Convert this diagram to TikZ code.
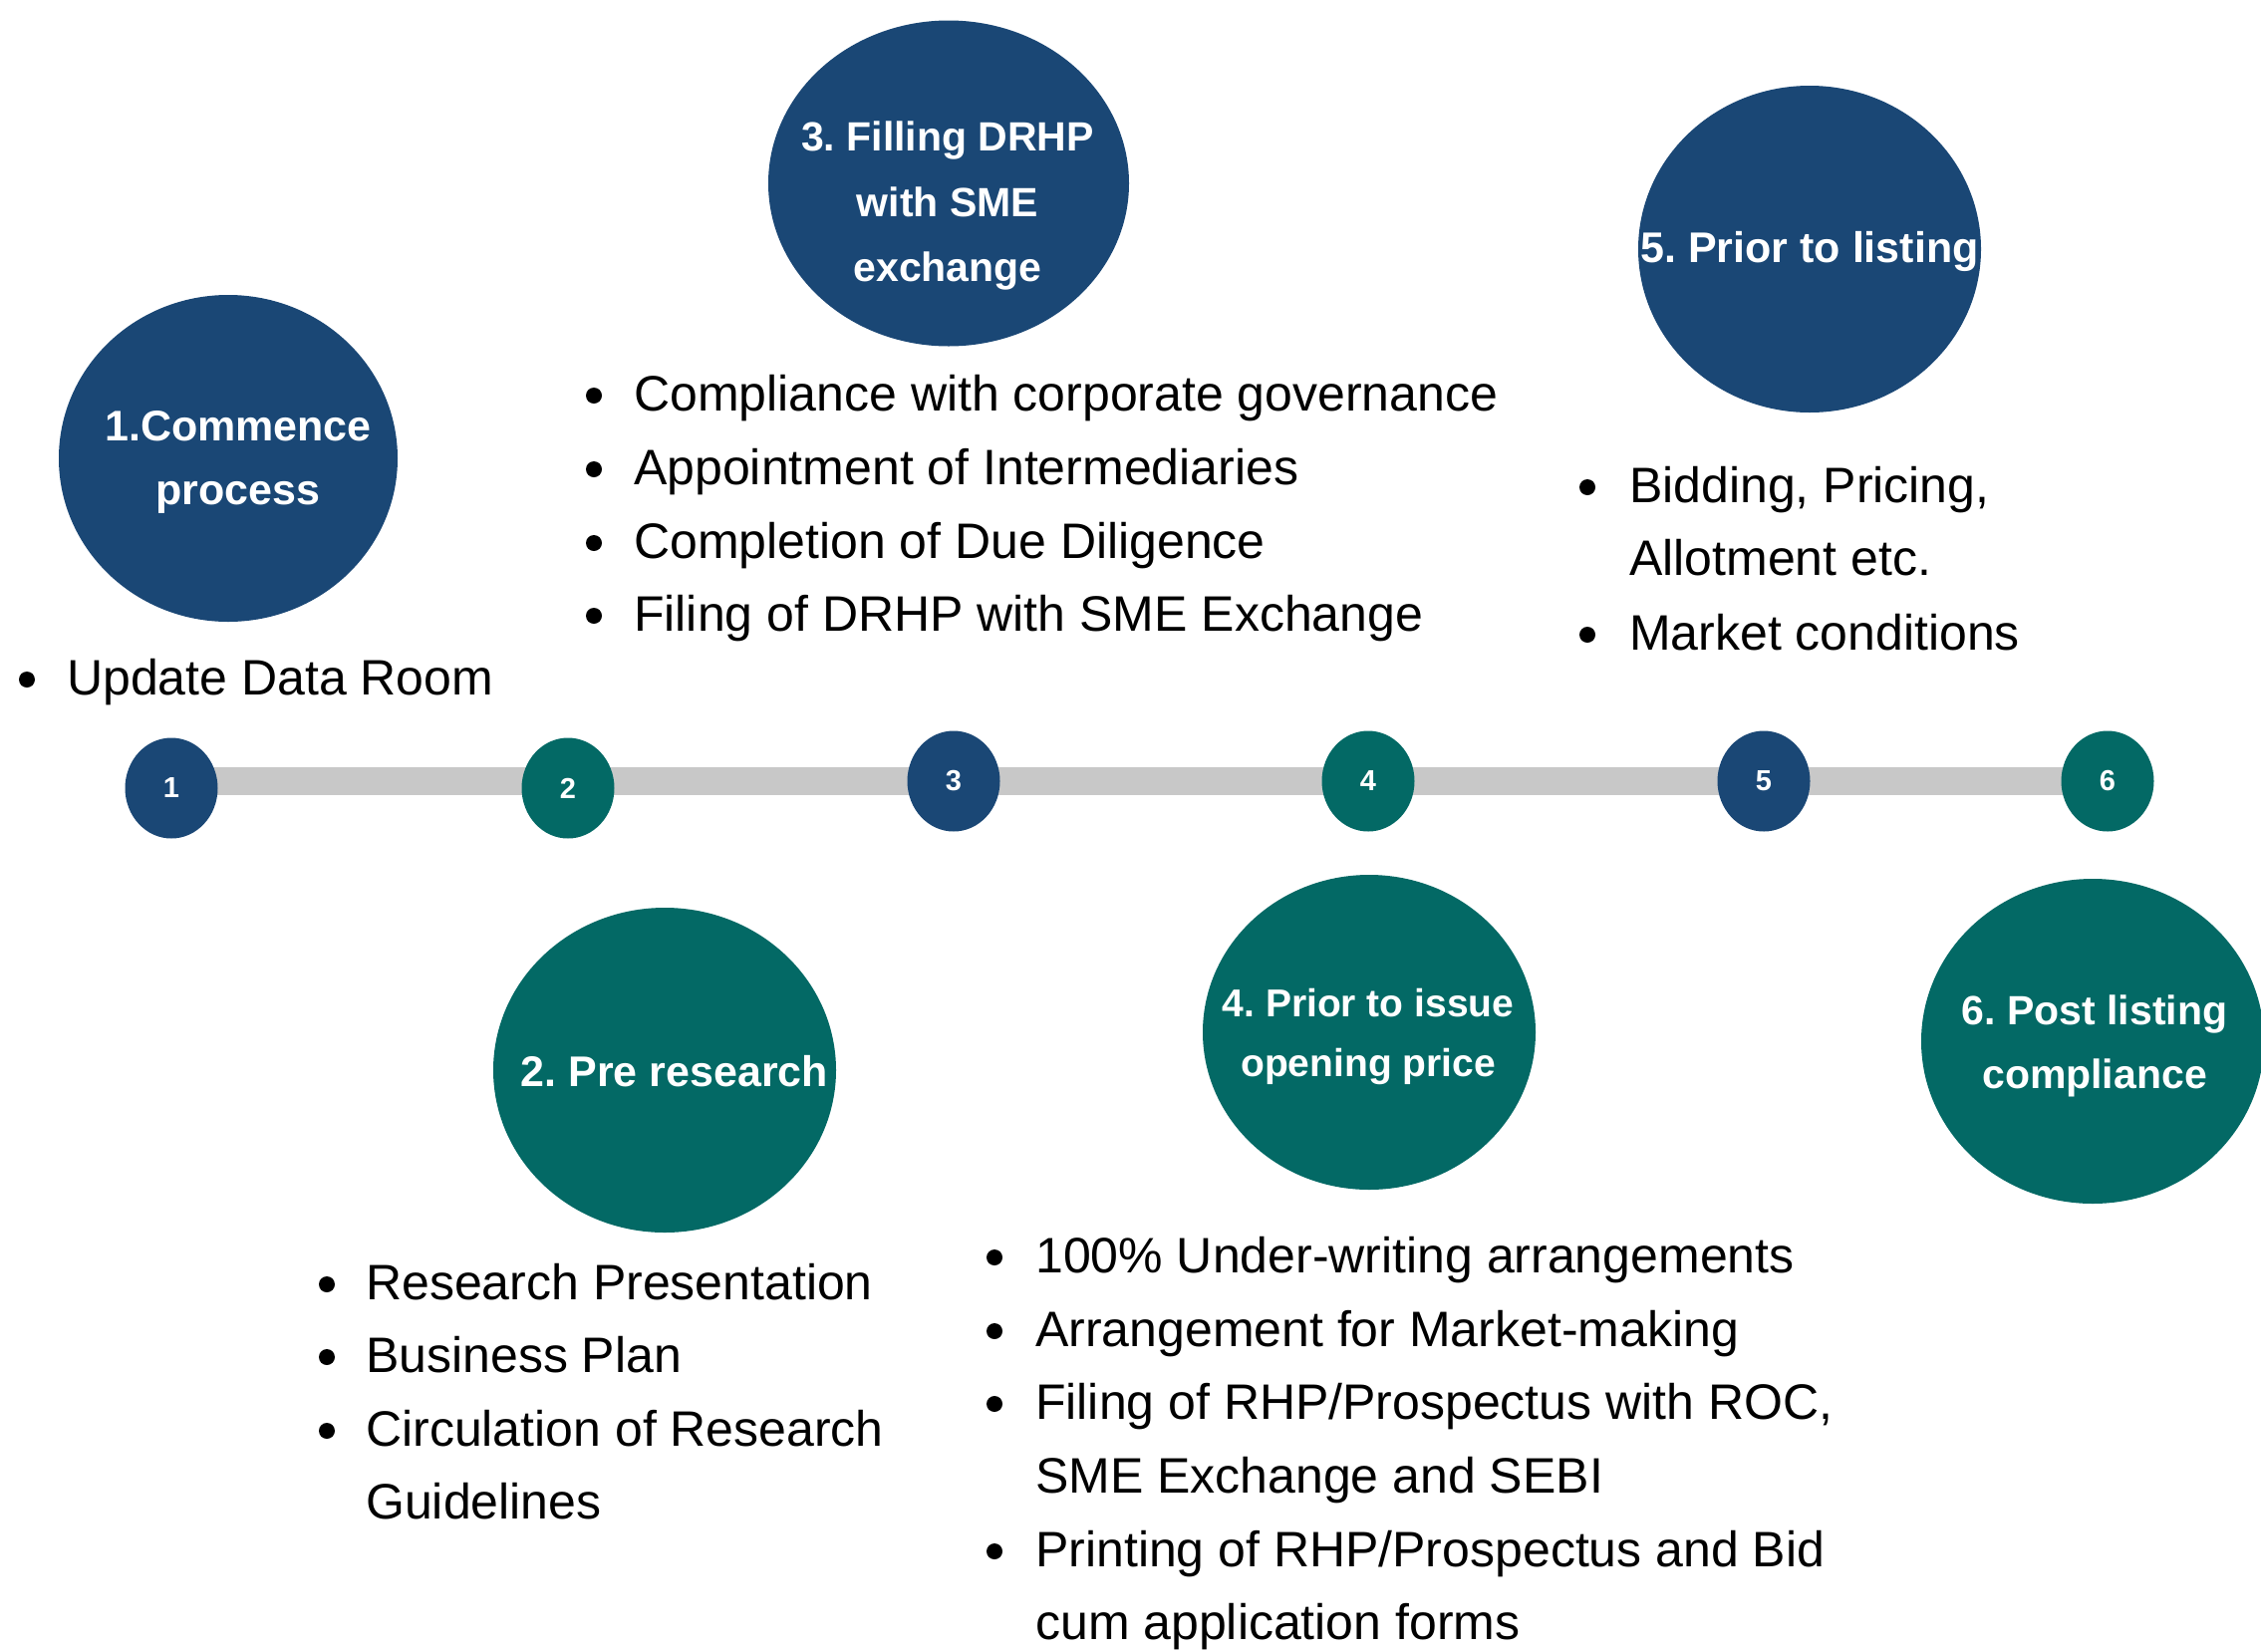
\documentclass[tikz,border=0pt]{standalone}
\usepackage{fontspec}
\setmainfont{Liberation Sans}
\usetikzlibrary{shapes.geometric,backgrounds}
\definecolor{navy}{RGB}{26,71,117}
\definecolor{tealc}{RGB}{3,105,101}
\definecolor{bargray}{RGB}{200,200,200}
\frenchspacing
\begin{document}
\begin{tikzpicture}[x=1pt,y=-1pt,
  bigc/.style={ellipse, inner sep=0pt, draw=none},
  smallc/.style={ellipse, inner sep=0pt, minimum width=93pt, minimum height=101pt, text=white, font=\fontsize{29}{29}\selectfont\bfseries},
  title/.style={anchor=base, inner sep=0pt, text=white, font=\fontsize{#1}{#1}\selectfont\bfseries},
  itemtext/.style={anchor=base west, inner sep=0pt, font=\fontsize{50}{60}\selectfont},
  bul/.style={circle, fill=black, minimum size=16pt, inner sep=0pt},
  barline/.style={bargray, line width=28pt}]
\useasboundingbox (0,0) rectangle (2269,1657);

% big circles
\node[bigc, fill=navy,  minimum width=340pt, minimum height=328pt] (c1) at (229,460) {};
\node[bigc, fill=tealc, minimum width=344pt, minimum height=326pt] (c2) at (667,1074) {};
\node[bigc, fill=navy,  minimum width=362pt, minimum height=327pt] (c3) at (952,184) {};
\node[bigc, fill=tealc, minimum width=334pt, minimum height=316pt] (c4) at (1374,1036) {};
\node[bigc, fill=navy,  minimum width=344pt, minimum height=328pt] (c5) at (1816,250) {};
\node[bigc, fill=tealc, minimum width=344pt, minimum height=326pt] (c6) at (2100,1045) {};

% titles
\node[title=43] (t1a) at (239,442) {1.Commence};
\node[title=43] (t1b) at (239,506) {process};
\node[title=43] (t2) at (677,1090) {2. Pre research};
\node[title=41] (t3a) at (951,151) {3. Filling DRHP};
\node[title=41] (t3b) at (951,217) {with SME};
\node[title=41] (t3c) at (951,282) {exchange};
\node[title=39] (t4a) at (1373,1020) {4. Prior to issue};
\node[title=39] (t4b) at (1373,1080) {opening price};
\node[title=43] (t5) at (1816,263) {5. Prior to listing};
\node[title=41] (t6a) at (2102,1028) {6. Post listing};
\node[title=41] (t6b) at (2102,1092) {compliance};

% timeline
\node[smallc, fill=navy]  (s1) at (172,791) {1};
\node[smallc, fill=tealc] (s2) at (570,791) {2};
\node[smallc, fill=navy]  (s3) at (957,784) {3};
\node[smallc, fill=tealc] (s4) at (1373,784) {4};
\node[smallc, fill=navy]  (s5) at (1770,784) {5};
\node[smallc, fill=tealc] (s6) at (2115,784) {6};
\begin{scope}[on background layer]
\draw[barline] (s1.center |- s6.center) -- (s6.center);
\end{scope}

% list 1
\node[bul] (b1a) at (27,682) {};
\node[itemtext] (l1a) at (67,697) {Update Data Room};

% list 2
\node[bul] (b2a) at (328,1289) {};
\node[bul] (b2b) at (328,1362) {};
\node[bul] (b2c) at (328,1436) {};
\node[itemtext] (l2a) at (367,1304) {Research Presentation};
\node[itemtext] (l2b) at (367,1377) {Business Plan};
\node[itemtext] (l2c) at (367,1451) {Circulation of Research};
\node[itemtext] (l2d) at (367,1524) {Guidelines};

% list 3
\node[bul] (b3a) at (596,397) {};
\node[bul] (b3b) at (596,471) {};
\node[bul] (b3c) at (596,545) {};
\node[bul] (b3d) at (596,618) {};
\node[itemtext] (l3a) at (636,412) {Compliance with corporate governance};
\node[itemtext] (l3b) at (636,486) {Appointment of Intermediaries};
\node[itemtext] (l3c) at (636,560) {Completion of Due Diligence};
\node[itemtext] (l3d) at (636,633) {Filing of DRHP with SME Exchange};

% list 4
\node[bul] (b4a) at (998,1262) {};
\node[bul] (b4b) at (998,1336) {};
\node[bul] (b4c) at (998,1409) {};
\node[bul] (b4d) at (998,1557) {};
\node[itemtext] (l4a) at (1039,1277) {100\% Under-writing arrangements};
\node[itemtext] (l4b) at (1039,1351) {Arrangement for Market-making};
\node[itemtext] (l4c) at (1039,1424) {Filing of RHP/Prospectus with ROC,};
\node[itemtext] (l4d) at (1039,1498) {SME Exchange and SEBI};
\node[itemtext] (l4e) at (1039,1572) {Printing of RHP/Prospectus and Bid};
\node[itemtext] (l4f) at (1039,1645) {cum application forms};

% list 5
\node[bul] (b5a) at (1593,489) {};
\node[bul] (b5b) at (1593,637) {};
\node[itemtext] (l5a) at (1635,504) {Bidding, Pricing,};
\node[itemtext] (l5b) at (1635,577) {Allotment etc.};
\node[itemtext] (l5c) at (1635,652) {Market conditions};
\end{tikzpicture}
\end{document}
